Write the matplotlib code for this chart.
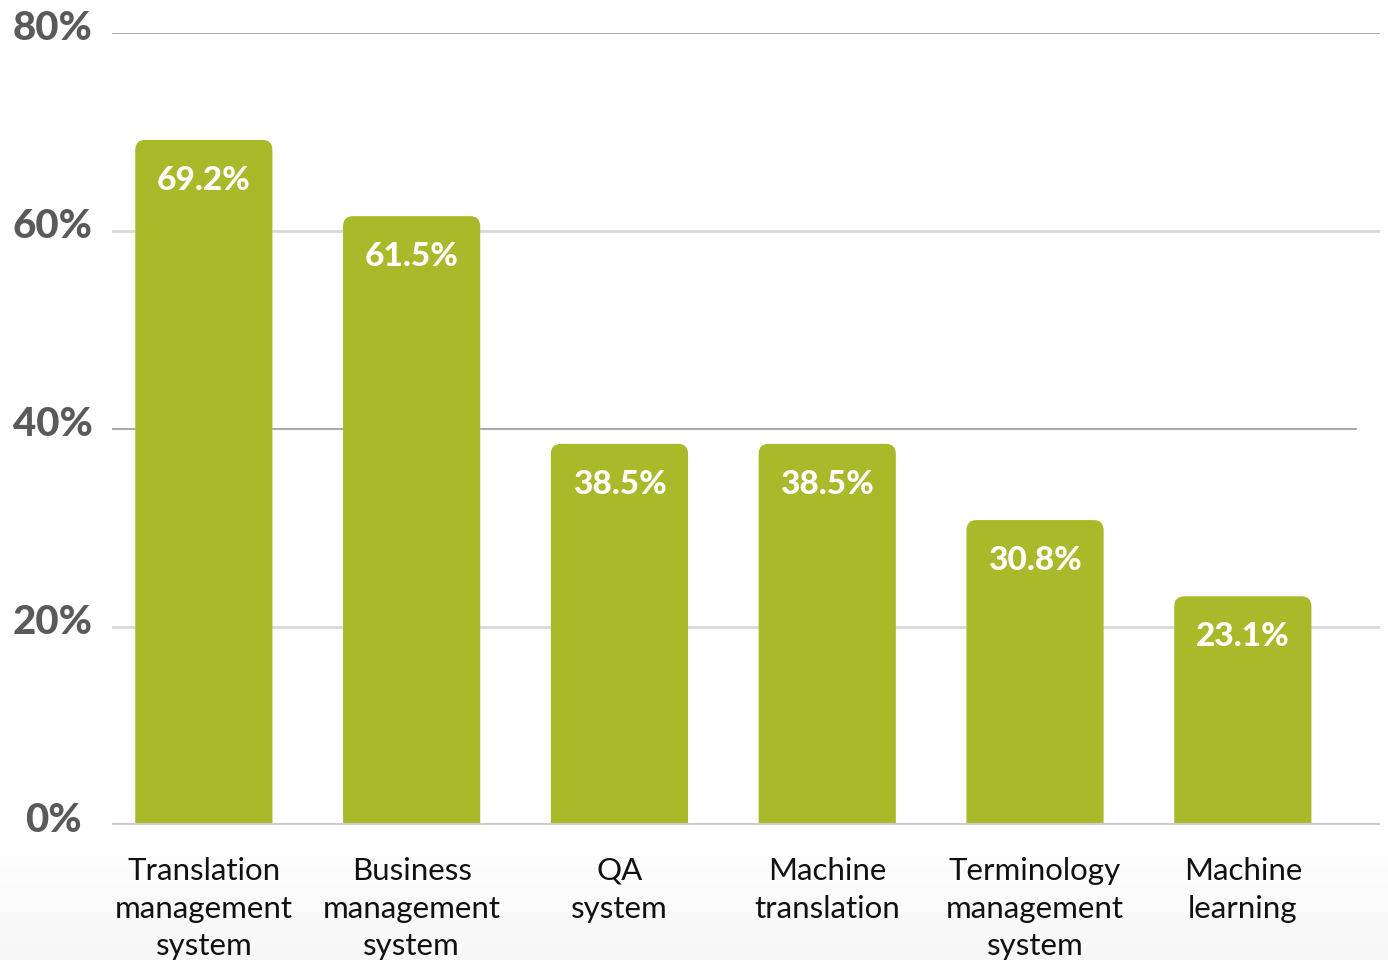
import numpy as np
import matplotlib
matplotlib.use("Agg")
import matplotlib.pyplot as plt
from matplotlib.patches import PathPatch
from matplotlib.path import Path
from matplotlib.transforms import ScaledTranslation

categories = ["Translation\nmanagement\nsystem", "Business\nmanagement\nsystem", "QA\nsystem",
              "Machine\ntranslation", "Terminology\nmanagement\nsystem", "Machine\nlearning"]
values = [69.2, 61.5, 38.5, 38.5, 30.8, 23.1]
value_labels = ["69.2%", "61.5%", "38.5%", "38.5%", "30.8%", "23.1%"]
yticks = [0, 20, 40, 60, 80]
ytick_labels = ["0%", "20%", "40%", "60%", "80%"]

BAR = "#a8b92a"
W, H, DPI = 1388, 960, 100
plt.rcParams['font.family'] = ['Lato', 'DejaVu Sans']

fig = plt.figure(figsize=(W / DPI, H / DPI), dpi=DPI, facecolor="white")

# subtle background gradient near the bottom
bg = fig.add_axes([0, 0, 1, 1], zorder=-10)
grad = np.ones((200, 1))
yy = np.linspace(0, 1, 200)
grad[:, 0] = np.where(yy < 0.14, 0.965 + (yy / 0.14) * 0.035, 1.0)
bg.imshow(grad, aspect="auto", cmap="gray", vmin=0, vmax=1, origin="lower",
          extent=[0, 1, 0, 1])
bg.set_axis_off()

left_px, right_px, top_px, bot_px = 112, 1380, 33, 825
ax = fig.add_axes([left_px / W, 1 - bot_px / H, (right_px - left_px) / W, (bot_px - top_px) / H])
ax.set_facecolor("none")
ax.set_xlim(-0.442, 5.66)
ax.set_ylim(0, 80)
for s in ax.spines.values():
    s.set_visible(False)

# gridlines
grid_styles = {80: ("#a3a3a3", 1.3, 1.0), 60: ("#d9d9d9", 2.0, 1.0), 40: ("#a3a3a3", 1.3, 0.981),
               20: ("#d9d9d9", 2.0, 1.0), 0: ("#cccccc", 3.0, 1.0)}
for t in yticks:
    c, lw, xm = grid_styles[t]
    ax.axhline(t, xmin=0, xmax=xm, color=c, lw=lw, zorder=1 if t > 0 else 4)

x = np.arange(len(categories))
bars = ax.bar(x, values, width=0.66, color=BAR, zorder=2)

# rounded top corners (single path per bar)
px_x = (5.66 + 0.442) / (right_px - left_px)   # data units per px (x)
px_y = 80 / (bot_px - top_px)                  # data units per px (y)
r_px = 10
rx, ry = r_px * px_x, r_px * px_y
for b in bars:
    bx, by, bw, bh = b.get_x(), b.get_y(), b.get_width(), b.get_height()
    b.set_visible(False)
    top = by + bh
    verts = [(bx, by), (bx, top - ry), (bx, top), (bx + rx, top),
             (bx + bw - rx, top), (bx + bw, top), (bx + bw, top - ry),
             (bx + bw, by), (bx, by)]
    codes = [Path.MOVETO, Path.LINETO, Path.CURVE3, Path.CURVE3,
             Path.LINETO, Path.CURVE3, Path.CURVE3, Path.LINETO, Path.CLOSEPOLY]
    ax.add_patch(PathPatch(Path(verts, codes), fc=BAR, ec="none", zorder=2))

# value labels
for xi, v, lab in zip(x, values, value_labels):
    ax.annotate(lab, (xi, v), xytext=(0, -29), textcoords="offset points",
                ha="center", va="center", color="white", fontsize=24, fontweight="black", zorder=5)

# y tick labels
ax.set_yticks([])
ytrans = ax.get_yaxis_transform() + ScaledTranslation(0, 5 / DPI, fig.dpi_scale_trans)
for t, lab in zip(yticks, ytick_labels):
    ax.text(-59 / (right_px - left_px), t, lab, transform=ytrans, ha="center", va="center",
            fontsize=29, fontweight="black", color="#5a5a5a")

# category labels
ax.set_xticks(x)
ax.set_xticklabels(categories, fontsize=22.5, color="#111111", linespacing=1.42, va="top")
ax.tick_params(axis="x", length=0, pad=23)

fig.savefig("out.png", dpi=DPI, facecolor="white")
